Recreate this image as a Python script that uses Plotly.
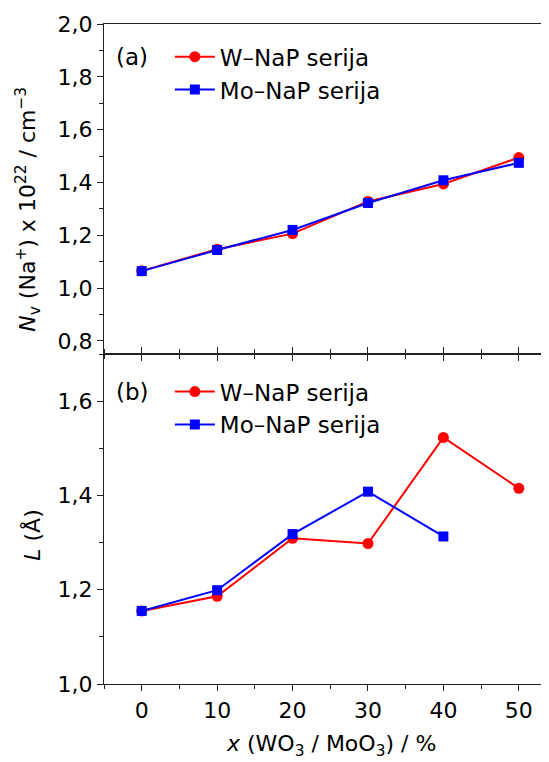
import plotly.graph_objects as go

x_vals = [0, 10, 20, 30, 40, 50]
x_mo = [0, 10, 20, 30, 40]

nv_w = [1.065, 1.147, 1.206, 1.328, 1.394, 1.494]
nv_mo = [1.064, 1.144, 1.220, 1.322, 1.408, 1.474]

l_w = [1.155, 1.186, 1.309, 1.298, 1.523, 1.415]
l_mo = [1.155, 1.199, 1.318, 1.408, 1.313]

RED = "#FF0000"
BLUE = "#0000FF"
FONT = "DejaVu Sans"
AXC = "#222222"

fig = go.Figure()

def add(x, y, color, symbol, size, name, xa, ya, leg, grp):
    fig.add_trace(go.Scatter(
        x=x, y=y, mode="lines+markers", name=name,
        line=dict(color=color, width=2),
        marker=dict(symbol=symbol, size=size, color=color),
        xaxis=xa, yaxis=ya, legend=leg, legendgroup=grp,
    ))

add(x_vals, nv_w, RED, "circle", 11, "W\u2013NaP serija", "x2", "y2", "legend", "a1")
add(x_vals, nv_mo, BLUE, "square", 10, "Mo\u2013NaP serija", "x2", "y2", "legend", "a2")
add(x_vals, l_w, RED, "circle", 11, "W\u2013NaP serija", "x", "y", "legend2", "b1")
add(x_mo, l_mo, BLUE, "square", 10, "Mo\u2013NaP serija", "x", "y", "legend2", "b2")

xcommon = dict(range=[-5, 54], tick0=0, dtick=10, showline=True, linecolor=AXC,
               linewidth=1.3, ticks="outside", ticklen=6, tickwidth=1.3, tickcolor=AXC,
               minor=dict(dtick=5, ticks="outside", ticklen=3.5, tickwidth=1.2, tickcolor=AXC),
               showgrid=False, zeroline=False)
ycommon = dict(showline=True, linecolor=AXC, linewidth=1.3, ticks="outside", ticklen=6,
               tickwidth=1.3, tickcolor=AXC, showgrid=False, zeroline=False,
               tickformat=".1f", tickfont=dict(size=22),
               minor=dict(dtick=0.1, ticks="outside", ticklen=3.5, tickwidth=1.2, tickcolor=AXC))

fig.update_layout(
    width=541, height=754,
    margin=dict(l=96, r=0, t=16, b=78),
    paper_bgcolor="white", plot_bgcolor="white",
    separators=", ",
    font=dict(family=FONT, size=20, color="black"),
    xaxis=dict(**xcommon, anchor="y", domain=[0, 1], mirror="ticks",
               tickfont=dict(size=22)),
    yaxis=dict(**ycommon, domain=[0, 0.5], range=[1.0, 1.7], tick0=1.0, dtick=0.2, anchor="x"),
    xaxis2=dict(**xcommon, anchor="y2", domain=[0, 1], mirror=True, showticklabels=False,
                matches="x"),
    yaxis2=dict(**ycommon, domain=[0.5, 1], range=[0.75, 2.0], tick0=0.8, dtick=0.2, anchor="x2"),
    legend=dict(x=0.148, y=0.983, xanchor="left", yanchor="top", bgcolor="rgba(0,0,0,0)",
                font=dict(size=23, family=FONT), tracegroupgap=5, itemwidth=40,
                traceorder="normal"),
    legend2=dict(x=0.148, y=0.4756, xanchor="left", yanchor="top", bgcolor="rgba(0,0,0,0)",
                 font=dict(size=23, family=FONT), tracegroupgap=5, itemwidth=40,
                 traceorder="normal"),
    showlegend=True,
)

fig.add_annotation(text="(a)", x=0.063, y=0.95, xref="paper", yref="paper",
                   showarrow=False, font=dict(size=23), xanchor="center", yanchor="middle")
fig.add_annotation(text="(b)", x=0.063, y=0.4424, xref="paper", yref="paper",
                   showarrow=False, font=dict(size=23), xanchor="center", yanchor="middle")
fig.add_annotation(text="<i>N</i><sub>v</sub> (Na<sup>+</sup>) x 10<sup>22</sup> / cm<sup>\u22123</sup>",
                   x=-0.171, y=0.72, xref="paper", yref="paper", textangle=-90,
                   showarrow=False, font=dict(size=22), xanchor="center", yanchor="middle")
fig.add_annotation(text="<i>L</i> (\u00c5)",
                   x=-0.162, y=0.226, xref="paper", yref="paper", textangle=-90,
                   showarrow=False, font=dict(size=22), xanchor="center", yanchor="middle")
fig.add_annotation(text="<i>x</i> (WO<sub>3</sub> / MoO<sub>3</sub>) / %",
                   x=0.51, y=-0.093, xref="paper", yref="paper",
                   showarrow=False, font=dict(size=22), xanchor="center", yanchor="middle")

fig.write_html("out.html")
